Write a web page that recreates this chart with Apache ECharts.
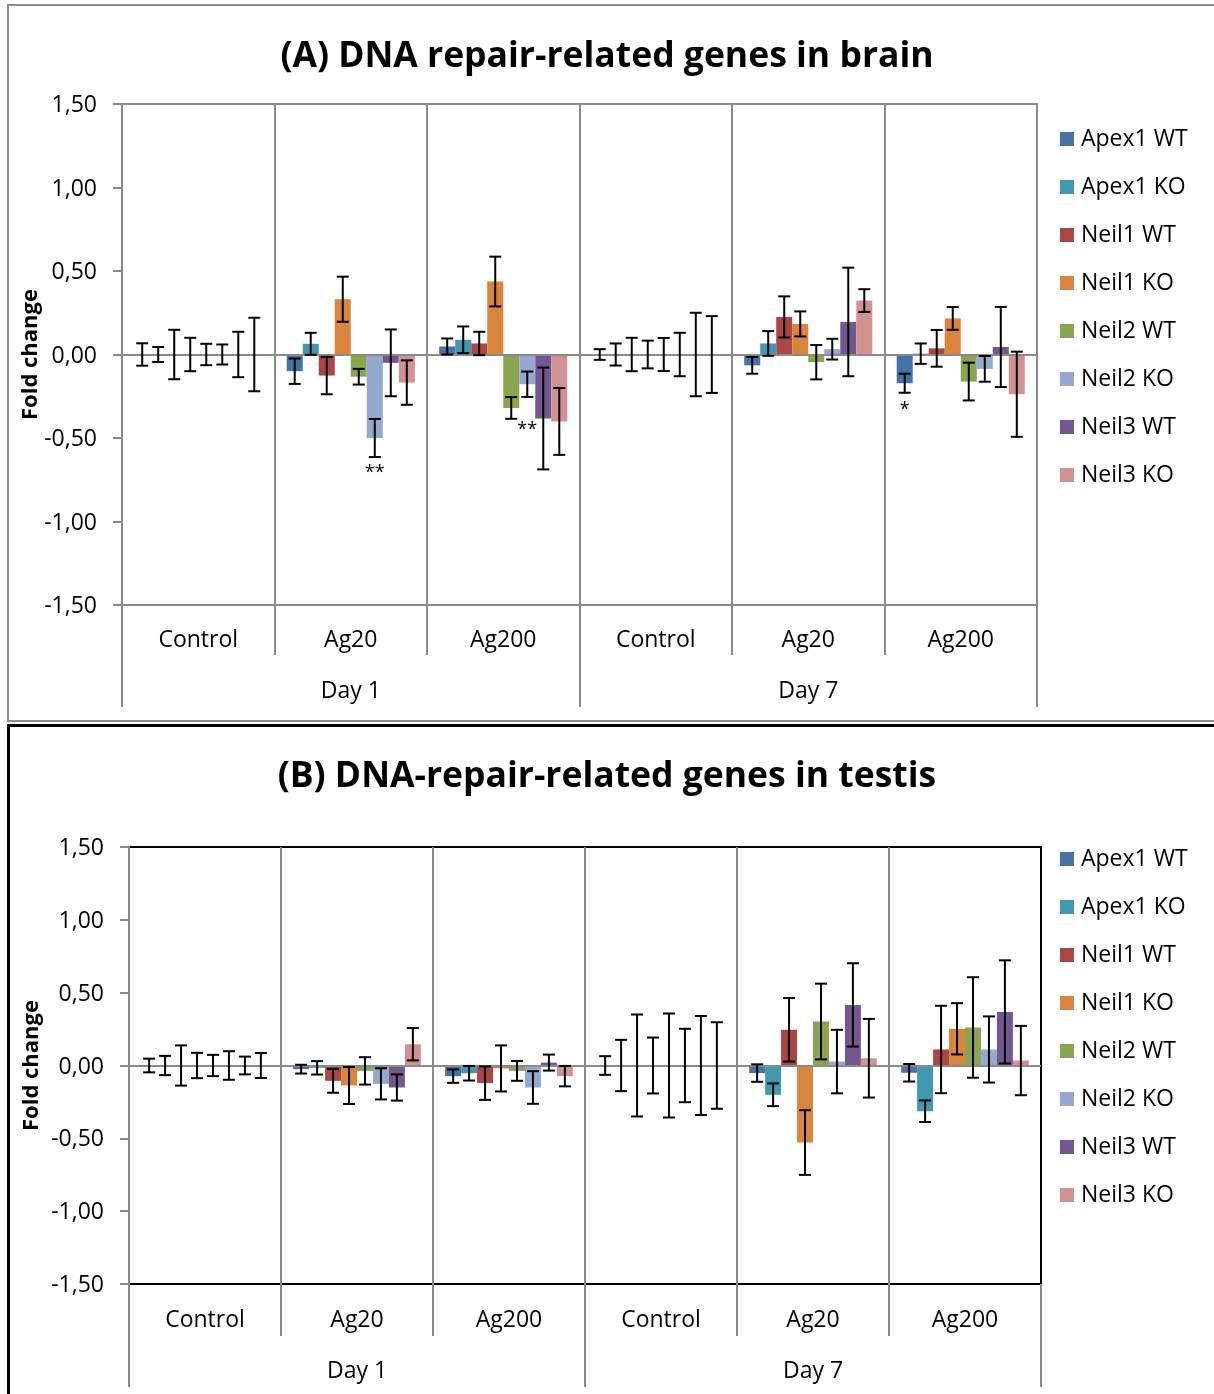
<!DOCTYPE html>
<html>
<head>
<meta charset="utf-8">
<script src="https://cdn.jsdelivr.net/npm/echarts@6/dist/echarts.min.js"></script>
<style>
  html, body { margin: 0; padding: 0; background: #fff; overflow: hidden; }
  #chart { position: absolute; left: 0; top: 0; width: 1214px; height: 1394px; z-index: 2; }
  .panel { position: absolute; box-sizing: border-box; z-index: 1; }
  #panelA { left: 7px; top: 4px; width: 1230px; height: 718px; border: 2px solid #8d8d8d; }
  #panelB { left: 7px; top: 724px; width: 1230px; height: 720px; border: 3px solid #000; }
</style>
</head>
<body>
<div id="panelA" class="panel"></div>
<div id="panelB" class="panel"></div>
<div id="chart"></div>
<script>
// ---------- DATA ----------
const categories = ['Control', 'Ag20', 'Ag200', 'Control', 'Ag20', 'Ag200'];
const days = ['Day 1', 'Day 7'];
const seriesNames = ['Apex1 WT', 'Apex1 KO', 'Neil1 WT', 'Neil1 KO', 'Neil2 WT', 'Neil2 KO', 'Neil3 WT', 'Neil3 KO'];
const titleA = '(A) DNA repair-related genes in brain';
const titleB = '(B) DNA-repair-related genes in testis';
const yName = 'Fold change';

// Panel A (brain): values per series across the 6 categories
const brainApex1WT = [0, -0.100, 0.048, 0, -0.065, -0.172];
const brainApex1KO = [0, 0.064, 0.088, 0, 0.066, 0.005];
const brainNeil1WT = [0, -0.126, 0.066, 0, 0.225, 0.037];
const brainNeil1KO = [0, 0.331, 0.437, 0, 0.183, 0.216];
const brainNeil2WT = [0, -0.133, -0.320, 0, -0.046, -0.162];
const brainNeil2KO = [0, -0.500, -0.178, 0, 0.032, -0.086];
const brainNeil3WT = [0, -0.050, -0.383, 0, 0.195, 0.045];
const brainNeil3KO = [0, -0.168, -0.401, 0, 0.323, -0.238];
// error (±)
const brainErrApex1WT = [0.067, 0.076, 0.048, 0.032, 0.050, 0.057];
const brainErrApex1KO = [0.045, 0.066, 0.080, 0.066, 0.074, 0.061];
const brainErrNeil1WT = [0.148, 0.112, 0.070, 0.100, 0.123, 0.110];
const brainErrNeil1KO = [0.100, 0.135, 0.149, 0.083, 0.075, 0.068];
const brainErrNeil2WT = [0.064, 0.047, 0.065, 0.099, 0.103, 0.113];
const brainErrNeil2KO = [0.060, 0.114, 0.076, 0.130, 0.062, 0.077];
const brainErrNeil3WT = [0.136, 0.200, 0.305, 0.250, 0.325, 0.240];
const brainErrNeil3KO = [0.220, 0.133, 0.200, 0.230, 0.068, 0.255];
// significance marks: [category index, series index, y value, text]
const brainSig = [[1, 5, -0.707, '**'], [2, 5, -0.449, '**'], [5, 0, -0.33, '*']];

// Panel B (testis)
const testisApex1WT = [0, -0.025, -0.073, 0, -0.052, -0.050];
const testisApex1KO = [0, -0.016, -0.053, 0, -0.201, -0.314];
const testisNeil1WT = [0, -0.105, -0.121, 0, 0.245, 0.110];
const testisNeil1KO = [0, -0.137, -0.020, 0, -0.529, 0.252];
const testisNeil2WT = [0, -0.037, -0.037, 0, 0.302, 0.261];
const testisNeil2KO = [0, -0.126, -0.151, 0, 0.027, 0.110];
const testisNeil3WT = [0, -0.151, 0.020, 0, 0.416, 0.368];
const testisNeil3KO = [0, 0.146, -0.073, 0, 0.050, 0.034];
const testisErrApex1WT = [0.047, 0.030, 0.046, 0.064, 0.060, 0.060];
const testisErrApex1KO = [0.066, 0.046, 0.050, 0.176, 0.078, 0.074];
const testisErrNeil1WT = [0.138, 0.082, 0.115, 0.350, 0.218, 0.300];
const testisErrNeil1KO = [0.087, 0.127, 0.158, 0.192, 0.222, 0.176];
const testisErrNeil2WT = [0.073, 0.094, 0.068, 0.357, 0.260, 0.345];
const testisErrNeil2KO = [0.098, 0.107, 0.112, 0.252, 0.218, 0.227];
const testisErrNeil3WT = [0.061, 0.090, 0.055, 0.340, 0.286, 0.354];
const testisErrNeil3KO = [0.086, 0.111, 0.070, 0.297, 0.270, 0.238];

// ---------- STYLE ----------
const colors = ['#4572A7', '#4198AF', '#AA4643', '#DB843D', '#89A54E', '#93A9CF', '#71588F', '#D19392'];
const FONT = "'Open Sans', 'Noto Sans', sans-serif";
const GREY = '#8a8a8a';
const CAT_GAP = 0.16;

const brainVals = [brainApex1WT, brainApex1KO, brainNeil1WT, brainNeil1KO, brainNeil2WT, brainNeil2KO, brainNeil3WT, brainNeil3KO];
const brainErrs = [brainErrApex1WT, brainErrApex1KO, brainErrNeil1WT, brainErrNeil1KO, brainErrNeil2WT, brainErrNeil2KO, brainErrNeil3WT, brainErrNeil3KO];
const testisVals = [testisApex1WT, testisApex1KO, testisNeil1WT, testisNeil1KO, testisNeil2WT, testisNeil2KO, testisNeil3WT, testisNeil3KO];
const testisErrs = [testisErrApex1WT, testisErrApex1KO, testisErrNeil1WT, testisErrNeil1KO, testisErrNeil2WT, testisErrNeil2KO, testisErrNeil3WT, testisErrNeil3KO];

function barX(api, c, s) {
  const center = api.coord([c, 0])[0];
  const catW = api.size([1, 0])[0];
  const bw = catW * (1 - CAT_GAP) / seriesNames.length;
  return center + (s - (seriesNames.length - 1) / 2) * bw;
}

function errorRender(params, api) {
  const c = api.value(0), s = api.value(1), v = api.value(2), e = api.value(3);
  const x = barX(api, c, s);
  const yt = api.coord([c, v + e])[1];
  const yb = api.coord([c, v - e])[1];
  const hw = 6;
  const st = { stroke: '#000', lineWidth: 2 };
  return {
    type: 'group',
    children: [
      { type: 'line', shape: { x1: x, y1: yt, x2: x, y2: yb }, style: st },
      { type: 'line', shape: { x1: x - hw, y1: yt, x2: x + hw, y2: yt }, style: st },
      { type: 'line', shape: { x1: x - hw, y1: yb, x2: x + hw, y2: yb }, style: st }
    ]
  };
}

function sigRender(sigList) {
  return function (params, api) {
    const c = api.value(0), s = api.value(1), v = api.value(2);
    const x = barX(api, c, s);
    const y = api.coord([c, v])[1];
    return {
      type: 'text',
      style: { x: x, y: y, text: sigList[params.dataIndex][3], font: '18px ' + FONT, fill: '#000', align: 'center', verticalAlign: 'middle' }
    };
  };
}

function yFmt(v) { return v.toFixed(2).replace('.', ','); }

const gridA = { left: 122, top: 104, width: 915, height: 501, show: true, borderColor: GREY, borderWidth: 2, backgroundColor: 'transparent' };
const gridB = { left: 129, top: 847, width: 912, height: 437, show: true, borderColor: '#000', borderWidth: 2, backgroundColor: 'transparent' };

function xAxes(gridIndex, m1, t1, m2, t2) {
  return [
    {
      type: 'category', gridIndex: gridIndex, data: categories, position: 'bottom',
      axisLine: { show: false, onZero: false },
      axisTick: { show: true, length: t1, interval: 0, lineStyle: { color: GREY, width: 2 } },
      axisLabel: { interval: 0, margin: m1, fontSize: 23, fontFamily: FONT, color: '#000' },
      splitLine: { show: true, interval: 0, showMinLine: false, showMaxLine: false, lineStyle: { color: GREY, width: 2 } }
    },
    {
      type: 'category', gridIndex: gridIndex, data: days, position: 'bottom',
      axisLine: { show: false, onZero: false },
      axisTick: { show: true, length: t2, interval: 0, lineStyle: { color: GREY, width: 2 } },
      axisLabel: { interval: 0, margin: m2, fontSize: 23, fontFamily: FONT, color: '#000' },
      splitLine: { show: false }
    }
  ];
}

function yAxis(gridIndex, gap) {
  return {
    type: 'value', gridIndex: gridIndex, min: -1.5, max: 1.5, interval: 0.5,
    name: yName, nameLocation: 'middle', nameGap: gap, nameRotate: 90, nameMoveOverlap: false,
    nameTextStyle: { fontSize: 22, fontWeight: 'bold', fontFamily: FONT, color: '#000' },
    axisLine: { show: true, lineStyle: { color: GREY, width: 2 } },
    axisTick: { show: true, length: 9, lineStyle: { color: GREY, width: 2 } },
    axisLabel: { margin: 25, fontSize: 23, fontFamily: FONT, color: '#000', formatter: yFmt, lineHeight: 27, verticalAlign: 'top', padding: [-12, 0, 0, 0] },
    splitLine: { show: false }
  };
}

function barSeries(vals, xIdx, yIdx) {
  return vals.map((arr, s) => ({
    type: 'bar', name: seriesNames[s], xAxisIndex: xIdx, yAxisIndex: yIdx,
    data: arr, barGap: '0%', barCategoryGap: (CAT_GAP * 100) + '%',
    itemStyle: { color: colors[s] },
    markLine: s === 0 ? {
      silent: true, symbol: 'none', label: { show: false },
      lineStyle: { color: GREY, width: 2, type: 'solid' },
      data: [{ yAxis: 0 }]
    } : undefined,
    z: 2
  }));
}

function errSeries(vals, errs, xIdx, yIdx) {
  const data = [];
  vals.forEach((arr, s) => arr.forEach((v, c) => data.push([c, s, v, errs[s][c]])));
  return {
    type: 'custom', xAxisIndex: xIdx, yAxisIndex: yIdx, renderItem: errorRender,
    encode: { x: 0, y: 2 }, data: data, z: 5, silent: true
  };
}

function sigSeries(sigList, xIdx, yIdx) {
  return {
    type: 'custom', xAxisIndex: xIdx, yAxisIndex: yIdx, renderItem: sigRender(sigList),
    encode: { x: 0, y: 2 }, data: sigList.map(d => [d[0], d[1], d[2]]), z: 6, silent: true
  };
}

function legend(top) {
  return {
    orient: 'vertical', left: 1060, top: top, data: seriesNames,
    icon: 'rect', itemWidth: 14, itemHeight: 14, itemGap: 23, padding: 0,
    textStyle: { fontSize: 23, fontFamily: FONT, color: '#000', lineHeight: 23, padding: [2, 0, 0, 2] },
    selectedMode: false
  };
}

const chart = echarts.init(document.getElementById('chart'), null, { renderer: 'canvas' });
const option = {
  animation: false,
  color: colors,
  title: [
    { text: titleA, left: 'center', top: 39, padding: [0, 0, 0, 10], textStyle: { fontSize: 35.5, fontWeight: 'bold', fontFamily: FONT, color: '#000', lineHeight: 36 } },
    { text: titleB, left: 'center', top: 759, padding: [0, 0, 0, 12], textStyle: { fontSize: 35.5, fontWeight: 'bold', fontFamily: FONT, color: '#000', lineHeight: 36 } }
  ],
  legend: [legend(126.5), legend(846.5)],
  grid: [gridA, gridB],
  xAxis: [].concat(xAxes(0, 24, 50, 75, 102), xAxes(1, 25, 52, 76, 103)),
  yAxis: [yAxis(0, 80), yAxis(1, 86)],
  series: [].concat(
    barSeries(brainVals, 0, 0),
    [errSeries(brainVals, brainErrs, 0, 0), sigSeries(brainSig, 0, 0)],
    barSeries(testisVals, 2, 1),
    [errSeries(testisVals, testisErrs, 2, 1)]
  )
};
chart.setOption(option);
</script>
</body>
</html>
